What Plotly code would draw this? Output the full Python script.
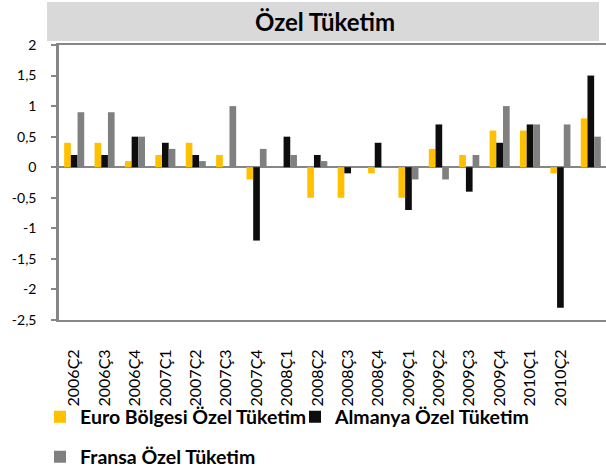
import numpy as np
import plotly.graph_objects as go

# Quarterly private consumption growth (%)
quarters = ["2006Ç2", "2006Ç3", "2006Ç4", "2007Ç1", "2007Ç2", "2007Ç3", "2007Ç4",
            "2008Ç1", "2008Ç2", "2008Ç3", "2008Ç4", "2009Ç1", "2009Ç2", "2009Ç3",
            "2009Ç4", "2010Ç1", "2010Ç2", "2010Ç3"]
tick_quarters = quarters[:-1]

euro = [0.4, 0.4, 0.1, 0.2, 0.4, 0.2, -0.2, 0.0, -0.5, -0.5, -0.1, -0.5,
        0.3, 0.2, 0.6, 0.6, -0.1, 0.8]
almanya = [0.2, 0.2, 0.5, 0.4, 0.2, 0.0, -1.2, 0.5, 0.2, -0.1, 0.4, -0.7,
           0.7, -0.4, 0.4, 0.7, -2.3, 1.5]
fransa = [0.9, 0.9, 0.5, 0.3, 0.1, 1.0, 0.3, 0.2, 0.1, 0.0, 0.0, -0.2,
          -0.2, 0.2, 1.0, 0.7, 0.7, 0.5]

y_ticks = [2, 1.5, 1, 0.5, 0, -0.5, -1, -1.5, -2, -2.5]
y_tick_labels = ["2", "1,5", "1", "0,5", "0", "-0,5", "-1", "-1,5", "-2", "-2,5"]

series_names = ["Euro Bölgesi Özel Tüketim", "Almanya Özel Tüketim", "Fransa Özel Tüketim"]
series_colors = ["#FFC000", "#0D0D0D", "#808080"]

W, H = 606, 475
L, R, T, B = 59, 606, 45, 320      # plot area in pixels
AXIS_GREY = "#868686"
FONT = "Lato"


def px_x(x):
    return (x - L) / (R - L)


def px_y(y):
    return (B - y) / (B - T)


fig = go.Figure()
for name, vals, col, leg in zip(series_names, [euro, almanya, fransa], series_colors,
                                ["legend", "legend", "legend2"]):
    fig.add_trace(go.Bar(x=quarters, y=vals, name=name, marker_color=col,
                         marker_line_width=0, legend=leg))

n = len(quarters)
y_min, y_max = -2.5, 2.0
legend_font = dict(size=19.5, weight="bold", color="black")

fig.update_layout(
    width=W, height=H,
    margin=dict(l=L, r=W - R, t=T, b=H - B, pad=0, autoexpand=False),
    paper_bgcolor="white", plot_bgcolor="white",
    barmode="group", bargap=0.34, bargroupgap=0,
    font=dict(family=FONT, color="black"),
    xaxis=dict(type="category", categoryorder="array", categoryarray=quarters,
               tickmode="array", tickvals=tick_quarters, ticktext=tick_quarters,
               tickangle=-90, tickfont=dict(size=16), ticks="",
               ticklabelstandoff=21, automargin=False,
               showline=True, linecolor=AXIS_GREY, linewidth=2, mirror=True,
               showgrid=False, zeroline=False),
    # category boundary ticks on the zero line
    xaxis2=dict(overlaying="x", anchor="free",
                position=(0 - y_min) / (y_max - y_min),
                range=[-0.5, n - 0.5],
                tickmode="array", tickvals=list(np.arange(n + 1) - 0.5),
                ticks="outside", ticklen=5, tickwidth=2, tickcolor=AXIS_GREY,
                showticklabels=False, showline=False, showgrid=False, zeroline=False),
    yaxis=dict(range=[y_min, y_max], tickmode="array", tickvals=y_ticks,
               ticktext=y_tick_labels, tickfont=dict(size=14),
               ticks="outside", ticklen=5, tickwidth=2, tickcolor=AXIS_GREY,
               ticklabelstandoff=12, automargin=False,
               showline=True, linecolor=AXIS_GREY, linewidth=2.5, mirror=True,
               showgrid=False, zeroline=True, zerolinecolor=AXIS_GREY,
               zerolinewidth=2),
    legend=dict(orientation="h", xref="container", yref="container",
                x=40 / W, xanchor="left", y=1 - 417 / H, yanchor="middle",
                font=legend_font, bgcolor="rgba(0,0,0,0)",
                itemwidth=30, entrywidth=210, entrywidthmode="pixels"),
    legend2=dict(orientation="h", xref="container", yref="container",
                 x=40 / W, xanchor="left", y=1 - 457 / H, yanchor="middle",
                 font=legend_font, bgcolor="rgba(0,0,0,0)",
                 itemwidth=30),
    showlegend=True,
)

# Title band
fig.add_shape(type="rect", xref="paper", yref="paper",
              x0=px_x(47), x1=px_x(599), y0=px_y(41), y1=px_y(2),
              fillcolor="#D9D9D9", line_width=0, layer="below")
fig.add_annotation(text="Özel Tüketim", xref="paper", yref="paper",
                   x=px_x(325), y=px_y(22), xanchor="center", yanchor="middle",
                   showarrow=False, font=dict(size=24, weight="bold", color="black"))

fig.write_html("out.html")
